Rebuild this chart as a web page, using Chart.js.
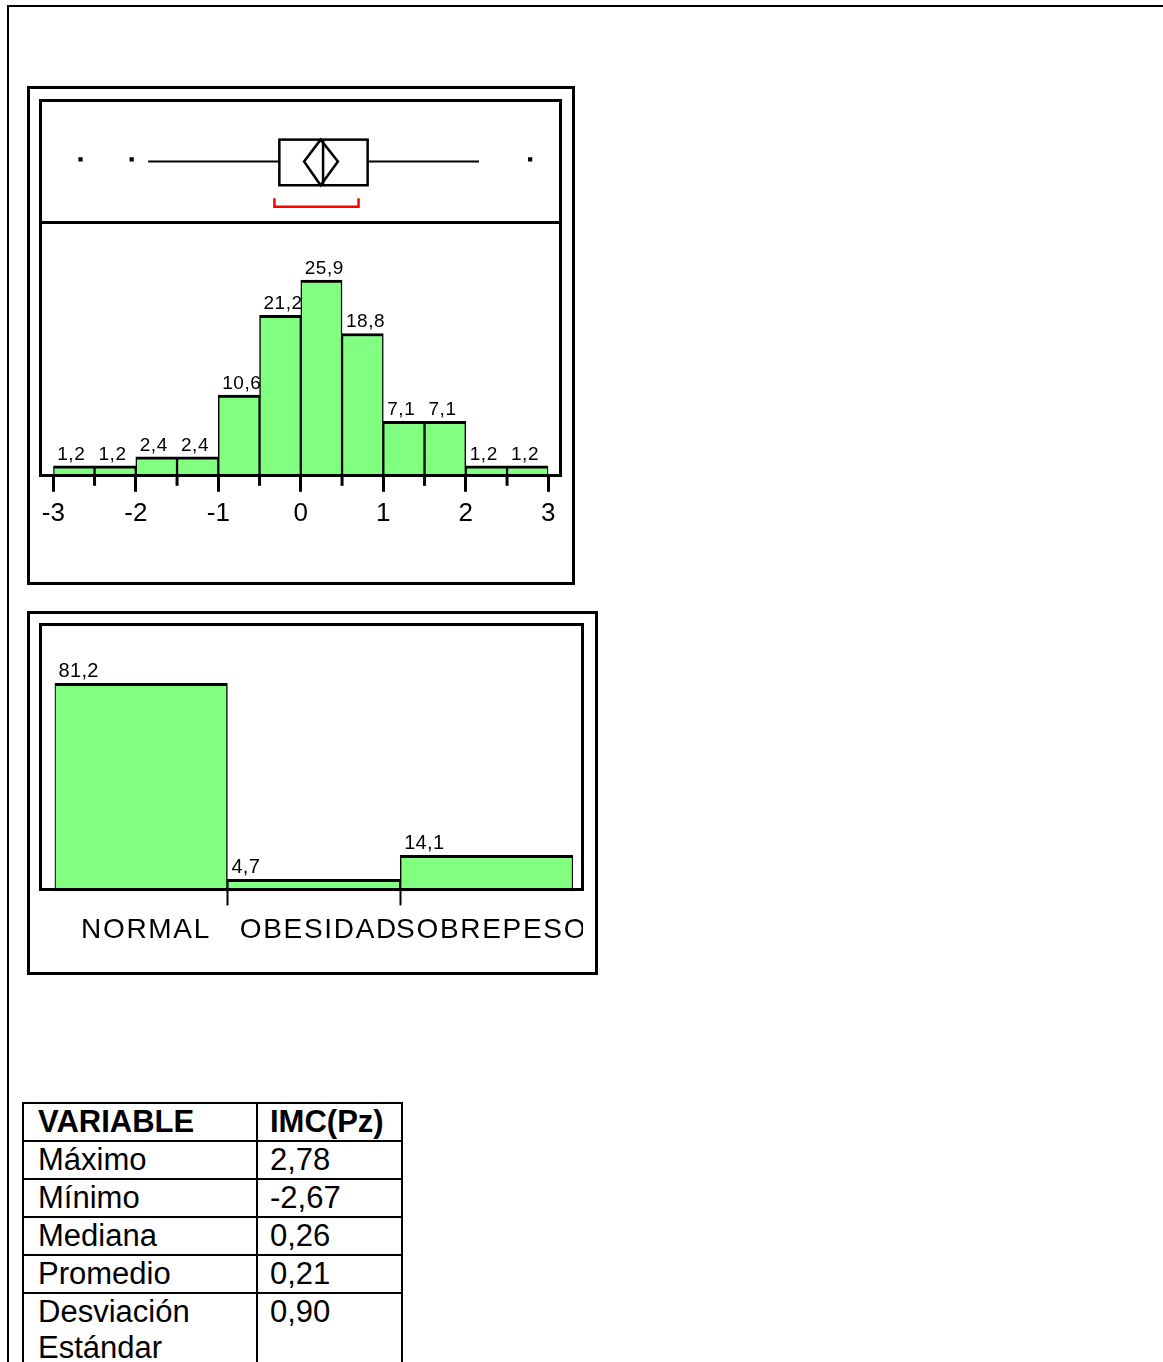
<!DOCTYPE html>
<html>
<head>
<meta charset="utf-8">
<script src="https://cdn.jsdelivr.net/npm/chart.js@4.4.1/dist/chart.umd.min.js"></script>
<style>
  html, body { margin: 0; background: #fff; overflow: hidden; }
  body { font-family: "Liberation Sans", Arial, sans-serif; width: 1163px; height: 1362px; position: relative; }
  .frame { position: absolute; left: 7px; top: 5px; right: 0; bottom: 0; border-top: 2px solid #000; border-left: 2px solid #000; }
  .box { position: absolute; box-sizing: border-box; border: 3px solid #000; pointer-events: none; }
  .rule { position: absolute; background: #000; }
  .chart { position: absolute; }
  table { position: absolute; left: 22px; top: 1102px; border-collapse: collapse; font-size: 31px; line-height: 36px; }
  td, th { border: 2px solid #000; padding: 0 12px; text-align: left; vertical-align: top; }
  th { font-weight: bold; }
  td:first-child, th:first-child { width: 206px; padding-left: 14px; }
  td:last-child, th:last-child { width: 119px; }
</style>
</head>
<body>
<div class="frame"></div>

<div class="chart" style="left:40px; top:102px; width:521px; height:119px;"><canvas id="boxChart"></canvas></div>
<div class="chart" style="left:40px; top:223px; width:521px; height:313px;"><canvas id="histChart"></canvas></div>
<div class="chart" style="left:41px; top:625px; width:542px; height:330px;"><canvas id="catChart"></canvas></div>

<div class="box" style="left:27px; top:86px; width:548px; height:499px;"></div>
<div class="box" style="left:39px; top:99px; width:523px; height:378px;"></div>
<div class="rule" style="left:39px; top:221px; width:523px; height:3px;"></div>

<div class="box" style="left:27px; top:611px; width:571px; height:364px;"></div>
<div class="box" style="left:39px; top:623px; width:545px; height:268px;"></div>

<table id="stats"></table>

<script>
// histogram of IMC z-score (percent per bin)
const binStarts = [-3, -2.5, -2, -1.5, -1, -0.5, 0, 0.5, 1, 1.5, 2, 2.5];
const binWidth = 0.5;
const binPercents = [1.2, 1.2, 2.4, 2.4, 10.6, 21.2, 25.9, 18.8, 7.1, 7.1, 1.2, 1.2];
const axisTicks = [-3, -2, -1, 0, 1, 2, 3];

// box plot summary
const whiskers = [-1.85, 2.16];
const quartiles = [-0.26, 0.81];
const median = 0.27;
const meanDiamond = [0.04, 0.24, 0.45]; // low, mean, high
const shortestHalf = [-0.32, 0.70];
const outliers = [-2.67, -2.05, 2.78];

// category bar chart
const categories = ["NORMAL", "OBESIDAD", "SOBREPESO"];
const categoryPercents = [81.2, 4.7, 14.1];

// summary table
const tableHeader = ["VARIABLE", "IMC(Pz)"];
const tableLabels = ["Máximo", "Mínimo", "Mediana", "Promedio", "Desviación Estándar"];
const tableValues = ["2,78", "-2,67", "0,26", "0,21", "0,90"];

const FONT = '"Liberation Sans", Arial, sans-serif';
const GREEN = "#80ff80";
const fmt = (v) => v.toFixed(1).replace(".", ",");
const noEdgePadding = (s) => { s.paddingLeft = 0; s.paddingRight = 0; };

Chart.defaults.font.family = FONT;
Chart.defaults.color = "#000";

// wider letter spacing for the axis labels of a chart
const spacedText = {
  id: "spacedText",
  beforeDraw(chart, args, opts) {
    chart.ctx.letterSpacing = opts.spacing || "0px";
  },
};

// value labels drawn before bars so a taller neighbour can cover them
const barLabels = {
  id: "barLabels",
  beforeDatasetsDraw(chart, args, opts) {
    const { ctx } = chart;
    const meta = chart.getDatasetMeta(0);
    const values = chart.data.datasets[0].data;
    ctx.save();
    ctx.letterSpacing = opts.spacing;
    ctx.font = `${opts.size}px ${FONT}`;
    ctx.fillStyle = "#000";
    ctx.textAlign = "left";
    ctx.textBaseline = "alphabetic";
    meta.data.forEach((bar, i) => {
      const v = typeof values[i] === "object" ? values[i].y : values[i];
      ctx.fillText(fmt(v), bar.x - bar.width / 2 + 4, bar.y - 6);
    });
    ctx.restore();
  },
};

// half-step ticks between the labelled integers
const minorTicks = {
  id: "minorTicks",
  afterDraw(chart) {
    const { ctx, chartArea, scales } = chart;
    ctx.save();
    ctx.strokeStyle = "#000";
    ctx.lineWidth = 3;
    binStarts.filter((s) => !Number.isInteger(s)).forEach((s) => {
      const px = scales.x.getPixelForValue(s);
      ctx.beginPath();
      ctx.moveTo(px, chartArea.bottom);
      ctx.lineTo(px, chartArea.bottom + 11);
      ctx.stroke();
    });
    ctx.restore();
  },
};

const boxPlot = {
  id: "boxPlot",
  afterDatasetsDraw(chart, args, o) {
    const { ctx, scales: { x, y } } = chart;
    const px = (v) => x.getPixelForValue(v);
    const mid = y.getPixelForValue(0.5);
    const top = y.getPixelForValue(o.boxTop);
    const bot = y.getPixelForValue(o.boxBottom);
    ctx.save();
    ctx.strokeStyle = "#000";
    ctx.lineWidth = 2;
    ctx.beginPath();
    ctx.moveTo(px(whiskers[0]), mid);
    ctx.lineTo(px(quartiles[0]), mid);
    ctx.moveTo(px(quartiles[1]), mid);
    ctx.lineTo(px(whiskers[1]), mid);
    ctx.stroke();

    ctx.lineWidth = 2.5;
    ctx.strokeRect(px(quartiles[0]), top, px(quartiles[1]) - px(quartiles[0]), bot - top);
    ctx.beginPath();
    ctx.moveTo(px(median), top);
    ctx.lineTo(px(median), bot);
    ctx.stroke();

    ctx.beginPath();
    ctx.moveTo(px(meanDiamond[0]), mid);
    ctx.lineTo(px(meanDiamond[1]), top);
    ctx.lineTo(px(meanDiamond[2]), mid);
    ctx.lineTo(px(meanDiamond[1]), bot);
    ctx.closePath();
    ctx.stroke();

    // shortest half bracket
    const bTop = y.getPixelForValue(o.bracketTop);
    const bBot = y.getPixelForValue(o.bracketBottom);
    ctx.strokeStyle = "#ff0000";
    ctx.lineWidth = 2.5;
    ctx.beginPath();
    ctx.moveTo(px(shortestHalf[0]), bTop);
    ctx.lineTo(px(shortestHalf[0]), bBot);
    ctx.lineTo(px(shortestHalf[1]), bBot);
    ctx.lineTo(px(shortestHalf[1]), bTop);
    ctx.stroke();
    ctx.restore();
  },
};

const common = {
  responsive: true,
  maintainAspectRatio: false,
  animation: false,
  devicePixelRatio: 1,
  events: [],
};

new Chart(document.getElementById("boxChart"), {
  type: "scatter",
  data: {
    datasets: [{
      data: outliers.map((v) => ({ x: v, y: 0.52 })),
      pointStyle: "rect",
      radius: 3,
      backgroundColor: "#000",
      borderColor: "#000",
      borderWidth: 0,
    }],
  },
  options: {
    ...common,
    layout: { padding: { left: 13.3, right: 12.7, top: 0, bottom: 0 } },
    scales: {
      x: { type: "linear", min: -3, max: 3, display: false },
      y: { min: 0, max: 1, display: false },
    },
    plugins: {
      legend: { display: false },
      tooltip: { enabled: false },
      boxPlot: { boxTop: 0.697, boxBottom: 0.286, bracketTop: 0.168, bracketBottom: 0.092 },
    },
  },
  plugins: [boxPlot],
});

new Chart(document.getElementById("histChart"), {
  type: "bar",
  data: {
    datasets: [{
      data: binStarts.map((s, i) => ({ x: s + binWidth / 2, y: binPercents[i] })),
      backgroundColor: GREEN,
      borderColor: "#000",
      borderWidth: { top: 3, left: 1.5, right: 1.5, bottom: 0 },
      borderSkipped: false,
      barPercentage: 1,
      categoryPercentage: 1,
    }],
  },
  options: {
    ...common,
    layout: { padding: { left: 13.3, right: 12.7, top: 0, bottom: 0 } },
    scales: {
      x: {
        type: "linear",
        min: -3,
        max: 3,
        offset: false,
        afterBuildTicks: (s) => { s.ticks = axisTicks.map((v) => ({ value: v })); },
        afterFit: noEdgePadding,
        ticks: { font: { size: 26 }, padding: 6.5, color: "#000", maxRotation: 0, callback: (v) => String(v) },
        grid: { drawOnChartArea: false, offset: false, tickLength: 17, tickWidth: 3, tickColor: "#000" },
        border: { display: false },
      },
      y: { min: 0, max: 33.5, display: false },
    },
    plugins: {
      legend: { display: false },
      tooltip: { enabled: false },
      barLabels: { size: 19, spacing: "0.5px" },
    },
  },
  plugins: [barLabels, minorTicks],
});

new Chart(document.getElementById("catChart"), {
  type: "bar",
  data: {
    labels: categories,
    datasets: [{
      data: categoryPercents,
      backgroundColor: GREEN,
      borderColor: "#000",
      borderWidth: { top: 3, left: 1.5, right: 1.5, bottom: 0 },
      borderSkipped: false,
      barPercentage: 1,
      categoryPercentage: 1,
    }],
  },
  options: {
    ...common,
    layout: { padding: { left: 13.6, right: 10, top: 0, bottom: 0 } },
    scales: {
      x: {
        afterFit: noEdgePadding,
        ticks: { font: { size: 28 }, padding: 8, color: "#000", maxRotation: 0, minRotation: 0, autoSkip: false, labelOffset: 5 },
        grid: {
          drawOnChartArea: false,
          offset: true,
          tickLength: 14,
          tickWidth: 2,
          tickColor: (c) => (c.index >= 1 && c.index < categories.length ? "#000" : "rgba(0,0,0,0)"),
        },
        border: { display: false },
      },
      y: { min: 0, max: 104, display: false },
    },
    plugins: {
      legend: { display: false },
      tooltip: { enabled: false },
      spacedText: { spacing: "1.7px" },
      barLabels: { size: 20, spacing: "0.3px" },
    },
  },
  plugins: [spacedText, barLabels],
});

// summary table
const table = document.getElementById("stats");
const head = table.insertRow();
tableHeader.forEach((h) => {
  const th = document.createElement("th");
  th.textContent = h;
  head.appendChild(th);
});
tableLabels.forEach((label, i) => {
  const row = table.insertRow();
  row.insertCell().textContent = label;
  row.insertCell().textContent = tableValues[i];
});
</script>
</body>
</html>
